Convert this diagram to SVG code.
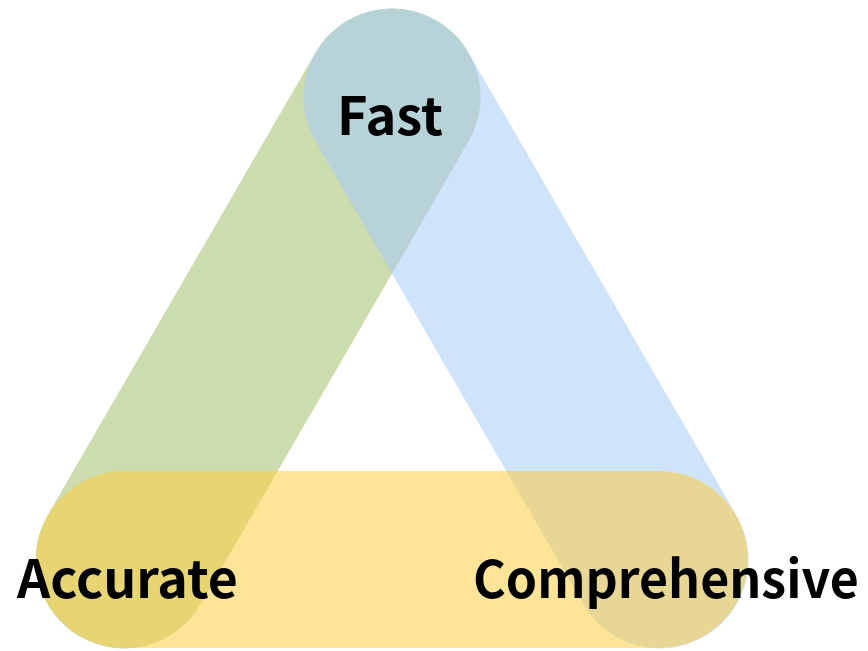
<svg xmlns="http://www.w3.org/2000/svg" width="868" height="651" viewBox="0 0 868 651">
<style>
.band{fill-opacity:0.55}
.lbl{font-family:"Noto Sans CJK JP","Noto Sans",sans-serif;font-weight:bold;font-size:52px;fill:#000}
</style>
<rect width="868" height="651" fill="#fff"/>
<g id="connectors">
<rect id="green" class="band" x="-356" y="-88.5" width="712" height="177" rx="88.5" fill="#A4BF6D" transform="translate(258,328.5) rotate(120.07)"/>
<rect id="blue" class="band" x="-356" y="-88.5" width="712" height="177" rx="88.5" fill="#A7CCF7" transform="translate(526,328.5) rotate(59.93)"/>
<rect id="yellow" class="band" x="36" y="471" width="712" height="177" rx="88.5" fill="#FDCD40"/>
</g>
<g id="fast"><text class="lbl" x="337" y="135" textLength="106" lengthAdjust="spacingAndGlyphs">Fast</text></g>
<g id="accurate"><text class="lbl" x="17" y="598" textLength="221" lengthAdjust="spacingAndGlyphs">Accurate</text></g>
<g id="comprehensive"><text class="lbl" transform="translate(473,598) scale(0.93,1)" x="0" y="0" textLength="415" lengthAdjust="spacingAndGlyphs">Comprehensive</text></g>
</svg>
